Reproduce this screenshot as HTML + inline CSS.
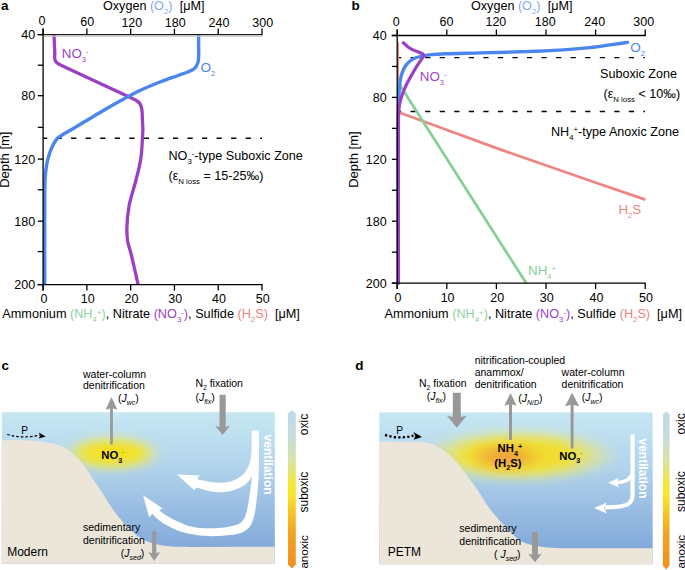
<!DOCTYPE html><html><head><meta charset="utf-8"><style>html,body{margin:0;padding:0;background:#fff;overflow:hidden;}svg{display:block;}</style></head><body>
<svg width="685" height="570" viewBox="0 0 685 570" style="font-family:&quot;Liberation Sans&quot;,sans-serif" fill="#000">
<defs>
<linearGradient id="water" x1="0" y1="0" x2="0" y2="1">
 <stop offset="0" stop-color="#c6e7f2"/>
 <stop offset="0.35" stop-color="#b2d4ec"/>
 <stop offset="1" stop-color="#7aa1d6"/>
</linearGradient>
<linearGradient id="cbar" x1="0" y1="0" x2="0" y2="1">
 <stop offset="0" stop-color="#bfd9ea"/>
 <stop offset="0.15" stop-color="#c4dbe0"/>
 <stop offset="0.32" stop-color="#d8e3a4"/>
 <stop offset="0.47" stop-color="#f4e832"/>
 <stop offset="0.53" stop-color="#f7e62a"/>
 <stop offset="0.65" stop-color="#f6c426"/>
 <stop offset="0.78" stop-color="#f3a223"/>
 <stop offset="1" stop-color="#f0901e"/>
</linearGradient>
<radialGradient id="glowc" cx="0.5" cy="0.5" r="0.5">
 <stop offset="0" stop-color="#f3d81c"/>
 <stop offset="0.3" stop-color="#f3e222"/>
 <stop offset="0.6" stop-color="#f1e52e" stop-opacity="0.92"/>
 <stop offset="0.82" stop-color="#e9e880" stop-opacity="0.4"/>
 <stop offset="1" stop-color="#e6ea9a" stop-opacity="0"/>
</radialGradient>
<radialGradient id="glowd" cx="0.5" cy="0.5" r="0.5">
 <stop offset="0" stop-color="#f09433"/>
 <stop offset="0.35" stop-color="#f4c22c"/>
 <stop offset="0.6" stop-color="#f2e32a" stop-opacity="0.95"/>
 <stop offset="1" stop-color="#eeea60" stop-opacity="0"/>
</radialGradient>
<radialGradient id="glowd1" cx="0.5" cy="0.5" r="0.5">
 <stop offset="0" stop-color="#f2d22a"/>
 <stop offset="0.55" stop-color="#f2e22a" stop-opacity="0.95"/>
 <stop offset="0.8" stop-color="#ece875" stop-opacity="0.5"/>
 <stop offset="1" stop-color="#e6ea9a" stop-opacity="0"/>
</radialGradient>
<radialGradient id="glowd2" cx="0.5" cy="0.5" r="0.5">
 <stop offset="0" stop-color="#ef9a40"/>
 <stop offset="0.45" stop-color="#f0a83a" stop-opacity="0.85"/>
 <stop offset="1" stop-color="#f2c02e" stop-opacity="0"/>
</radialGradient>
<filter id="blur3" x="-50%" y="-50%" width="200%" height="200%"><feGaussianBlur stdDeviation="4"/></filter>
</defs>
<text x="1.1" y="9.6" font-size="13.5" font-weight="bold">a</text>
<text x="103" y="10" font-size="12.6">Oxygen <tspan fill="#80a8f0">(O<tspan font-size="7.8" dy="3.5">2</tspan><tspan dy="-3.5">)</tspan></tspan><tspan dx="7.2">[μM]</tspan></text>
<text transform="translate(9.4 159.7) rotate(-90)" text-anchor="middle" font-size="13">Depth [m]</text>
<text x="2.3" y="318.4" font-size="12.7">Ammonium <tspan fill="#8cd39c">(NH<tspan font-size="7.8" dy="3.5">4</tspan><tspan font-size="7.8" dy="-7">+</tspan><tspan dy="3.5">)</tspan></tspan>, Nitrate <tspan fill="#9b3fc6">(NO<tspan font-size="7.8" dy="3.5">3</tspan><tspan font-size="7.8" dy="-7">-</tspan><tspan dy="3.5">)</tspan></tspan>, Sulfide <tspan fill="#ee807c">(H<tspan font-size="7.8" dy="3.5">2</tspan><tspan dy="-3.5">S)</tspan></tspan><tspan dx="7">[μM]</tspan></text>
<line x1="43" y1="138.2" x2="262" y2="138.2" stroke="#000" stroke-width="1.4" stroke-dasharray="5.2 9.35" stroke-dashoffset="1"/>
<path d="M54 35 L54.8 53 C54.7 56 54.3 58.5 55.3 60.8 C56.5 63.2 58.5 64.3 61.5 65.6 L133 98.8 C139.5 101.6 141.6 104 142.1 112 L142.9 130 C142.23 139.33 142.18 149.27 140.9 158 C139.76 165.82 137.86 172.4 136 180 C133.97 188.28 130.62 197.46 129.1 205.8 C127.71 213.42 127.04 221.58 126.9 228 C126.79 232.9 126.92 236.74 127.6 241 C128.28 245.27 129.72 248.46 131 253.6 C133 261.63 135.73 274.27 138.1 284.6" fill="none" stroke="#9b3fc6" stroke-width="3.3" stroke-linejoin="round"/>
<path d="M198.6 35 L198.7 56 C198.7 62 197.5 66 194 68.8 C190.5 71.4 185 73 178 75.5 C172 77.67 166.12 79.6 160 82 C153.47 84.56 146.6 87.37 140 90.5 C133.27 93.69 126.63 97.35 120 101 C113.3 104.68 106.65 108.59 100 112.5 C93.32 116.43 86.2 120.82 80 124.5 C74.65 127.67 69.11 130.73 65 133.3 C62.04 135.15 59.58 136.2 57.5 138.3 C55.4 140.42 53.93 143.15 52.5 146 C50.92 149.15 49.63 153.03 48.6 156.5 C47.62 159.79 46.97 162.8 46.4 166.3 C45.76 170.24 45.39 174.23 45.1 179 C44.73 185.12 44.79 190.66 44.7 200 C44.52 218.75 44.7 256.4 44.7 284.6" fill="none" stroke="#4a86ee" stroke-width="3.4" stroke-linejoin="round"/>
<line x1="37.6" y1="34.6" x2="262.6" y2="34.6" stroke="#1a1a1a" stroke-width="1.3"/>
<line x1="37.6" y1="284.6" x2="262.6" y2="284.6" stroke="#000" stroke-width="1.3"/>
<line x1="43.1" y1="28.6" x2="43.1" y2="290.6" stroke="#000" stroke-width="1.3"/>
<line x1="43.1" y1="28.6" x2="43.1" y2="34.6" stroke="#000" stroke-width="1.3"/>
<line x1="43.1" y1="284.6" x2="43.1" y2="290.6" stroke="#000" stroke-width="1.3"/>
<text x="42.1" y="24.6" text-anchor="middle" font-size="12.5">0</text>
<text x="43.9" y="302.5" text-anchor="middle" font-size="12.5">0</text>
<line x1="86.88" y1="28.6" x2="86.88" y2="34.6" stroke="#000" stroke-width="1.3"/>
<line x1="86.88" y1="284.6" x2="86.88" y2="290.6" stroke="#000" stroke-width="1.3"/>
<text x="87.28" y="26" text-anchor="middle" font-size="12.5">60</text>
<text x="87.68" y="302.5" text-anchor="middle" font-size="12.5">10</text>
<line x1="130.66" y1="28.6" x2="130.66" y2="34.6" stroke="#000" stroke-width="1.3"/>
<line x1="130.66" y1="284.6" x2="130.66" y2="290.6" stroke="#000" stroke-width="1.3"/>
<text x="131.86" y="27" text-anchor="middle" font-size="12.5">120</text>
<text x="131.46" y="302.5" text-anchor="middle" font-size="12.5">20</text>
<line x1="174.44" y1="28.6" x2="174.44" y2="34.6" stroke="#000" stroke-width="1.3"/>
<line x1="174.44" y1="284.6" x2="174.44" y2="290.6" stroke="#000" stroke-width="1.3"/>
<text x="175.24" y="27" text-anchor="middle" font-size="12.5">180</text>
<text x="175.24" y="302.5" text-anchor="middle" font-size="12.5">30</text>
<line x1="218.22" y1="28.6" x2="218.22" y2="34.6" stroke="#000" stroke-width="1.3"/>
<line x1="218.22" y1="284.6" x2="218.22" y2="290.6" stroke="#000" stroke-width="1.3"/>
<text x="219.02" y="27" text-anchor="middle" font-size="12.5">240</text>
<text x="219.02" y="302.5" text-anchor="middle" font-size="12.5">40</text>
<line x1="262" y1="28.6" x2="262" y2="34.6" stroke="#000" stroke-width="1.3"/>
<line x1="262" y1="284.6" x2="262" y2="290.6" stroke="#000" stroke-width="1.3"/>
<text x="262.8" y="27" text-anchor="middle" font-size="12.5">300</text>
<text x="262.8" y="302.5" text-anchor="middle" font-size="12.5">50</text>
<line x1="37.8" y1="34.6" x2="43.1" y2="34.6" stroke="#000" stroke-width="1.3"/>
<line x1="37.8" y1="65.2" x2="43.1" y2="65.2" stroke="#000" stroke-width="1.3"/>
<line x1="37.8" y1="95.7" x2="43.1" y2="95.7" stroke="#000" stroke-width="1.3"/>
<line x1="37.8" y1="127.4" x2="43.1" y2="127.4" stroke="#000" stroke-width="1.3"/>
<line x1="37.8" y1="159.1" x2="43.1" y2="159.1" stroke="#000" stroke-width="1.3"/>
<line x1="37.8" y1="189.8" x2="43.1" y2="189.8" stroke="#000" stroke-width="1.3"/>
<line x1="37.8" y1="221.2" x2="43.1" y2="221.2" stroke="#000" stroke-width="1.3"/>
<line x1="37.8" y1="251.6" x2="43.1" y2="251.6" stroke="#000" stroke-width="1.3"/>
<line x1="37.8" y1="284.6" x2="43.1" y2="284.6" stroke="#000" stroke-width="1.3"/>
<text x="35.2" y="39.2" text-anchor="end" font-size="12.5">40</text>
<text x="35.2" y="100.3" text-anchor="end" font-size="12.5">80</text>
<text x="35.2" y="163.7" text-anchor="end" font-size="12.5">120</text>
<text x="35.2" y="225.8" text-anchor="end" font-size="12.5">180</text>
<text x="35.2" y="289.2" text-anchor="end" font-size="12.5">200</text>
<line x1="43.8" y1="36.1" x2="262.5" y2="36.1" stroke="#c4c4c4" stroke-width="1.1"/>
<text x="61.8" y="57.8" font-size="13.3" fill="#9b3fc6">NO<tspan font-size="7.5" dy="4">3</tspan><tspan font-size="7.5" dy="-8.2">-</tspan></text>
<text x="200.6" y="71.6" font-size="13.5" fill="#4a86ee">O<tspan font-size="7.5" dy="4">2</tspan></text>
<text x="168.5" y="160" font-size="12.6">NO<tspan font-size="7.8" dy="3.5">3</tspan><tspan font-size="7.8" dy="-7.5">-</tspan><tspan dy="4">-type Suboxic Zone</tspan></text>
<text x="168.5" y="180" font-size="12.6">(ε<tspan font-size="7.8" dy="3.5">N loss</tspan><tspan dy="-3.5"> = 15-25‰)</tspan></text>
<text x="351.6" y="9.6" font-size="13.5" font-weight="bold">b</text>
<text x="471" y="10" font-size="12.6">Oxygen <tspan fill="#80a8f0">(O<tspan font-size="7.8" dy="3.5">2</tspan><tspan dy="-3.5">)</tspan></tspan><tspan dx="7.2">[μM]</tspan></text>
<text transform="translate(358 159.6) rotate(-90)" text-anchor="middle" font-size="13">Depth [m]</text>
<text x="384.5" y="318.4" font-size="12.7">Ammonium <tspan fill="#8cd39c">(NH<tspan font-size="7.8" dy="3.5">4</tspan><tspan font-size="7.8" dy="-7">+</tspan><tspan dy="3.5">)</tspan></tspan>, Nitrate <tspan fill="#9b3fc6">(NO<tspan font-size="7.8" dy="3.5">3</tspan><tspan font-size="7.8" dy="-7">-</tspan><tspan dy="3.5">)</tspan></tspan>, Sulfide <tspan fill="#ee807c">(H<tspan font-size="7.8" dy="3.5">2</tspan><tspan dy="-3.5">S)</tspan></tspan><tspan dx="7">[μM]</tspan></text>
<line x1="398" y1="57.6" x2="645" y2="57.6" stroke="#000" stroke-width="1.4" stroke-dasharray="5.2 9.35" stroke-dashoffset="1.95"/>
<line x1="398" y1="111.5" x2="645" y2="111.5" stroke="#000" stroke-width="1.4" stroke-dasharray="5.2 9.35" stroke-dashoffset="1.95"/>
<line x1="398.4" y1="42" x2="398.4" y2="112" stroke="#ef8580" stroke-width="1.2"/>
<path d="M398.6 112.2 C413.4 117.6 426.74 122.45 443 128.4 C462.83 135.65 483 143.35 509 152.6 C546.25 165.85 599.93 183.93 645.4 199.6" fill="none" stroke="#ef8580" stroke-width="2.7"/>
<path d="M399.8 85 C441.9 151.03 484 217.07 526.1 283.1" fill="none" stroke="#84d194" stroke-width="2.7"/>
<path d="M627.5 42.4 C621.67 43.23 616.03 44.06 610 44.9 C603.56 45.8 597.35 46.8 590 47.6 C581.02 48.58 570.73 49.43 560 50.1 C547.63 50.88 533.34 51.33 520 51.8 C506.67 52.27 492.89 52.56 480 52.9 C467.94 53.22 453.83 53.41 445 53.8 C439.61 54.03 435.74 54.24 432 54.6 C429.15 54.88 427.06 55.1 424.5 55.6 C421.74 56.14 418.58 56.75 416 57.8 C413.62 58.77 411.33 60.01 409.5 61.5 C407.81 62.88 406.5 64.5 405.3 66.3 C404.04 68.21 403.03 70.45 402.2 72.7 C401.34 75.04 400.79 77.4 400.3 80.1 C399.73 83.28 399.49 87.19 399.2 90.6 C398.93 93.82 398.74 95.98 398.6 100 C398.35 107.17 398.45 116.14 398.4 130 C398.3 161.3 398.4 232 398.4 283" fill="none" stroke="#4a86ee" stroke-width="3.4" stroke-linejoin="round" stroke-linecap="round"/>
<path d="M403.4 42.7 C405.17 44.3 406.85 46.19 408.7 47.5 C410.4 48.71 412.13 49.54 414 50.4 C415.98 51.31 418.58 51.91 420.3 52.8 C421.62 53.48 423.34 53.99 423.6 55 C423.9 56.14 422.28 57.82 421.3 59.5 C419.94 61.82 417.56 64.97 416 67.5 C414.64 69.7 413.69 71.55 412.4 73.8 C410.91 76.4 409.07 79.33 407.6 82.2 C406.13 85.07 404.74 88.16 403.6 91 C402.57 93.58 401.73 96.03 401 98.5 C400.31 100.86 399.71 102.97 399.3 105.5 C398.83 108.41 398.72 109.88 398.5 115 C397.59 136.51 398.43 227 398.4 283" fill="none" stroke="#9b3fc6" stroke-width="3.2" stroke-linejoin="round" stroke-linecap="round"/>
<line x1="391.7" y1="35.5" x2="645.8" y2="35.5" stroke="#000" stroke-width="1.3"/>
<line x1="391.7" y1="283.1" x2="645.8" y2="283.1" stroke="#000" stroke-width="1.3"/>
<line x1="397.2" y1="29.5" x2="397.2" y2="289.1" stroke="#000" stroke-width="1.3"/>
<line x1="397.2" y1="29.5" x2="397.2" y2="35.5" stroke="#000" stroke-width="1.3"/>
<line x1="397.2" y1="283.1" x2="397.2" y2="289.1" stroke="#000" stroke-width="1.3"/>
<text x="396.2" y="26.4" text-anchor="middle" font-size="12.5">0</text>
<text x="398" y="302.2" text-anchor="middle" font-size="12.5">0</text>
<line x1="446.8" y1="29.5" x2="446.8" y2="35.5" stroke="#000" stroke-width="1.3"/>
<line x1="446.8" y1="283.1" x2="446.8" y2="289.1" stroke="#000" stroke-width="1.3"/>
<text x="446.4" y="26.4" text-anchor="middle" font-size="12.5">60</text>
<text x="447.6" y="302.2" text-anchor="middle" font-size="12.5">10</text>
<line x1="496.4" y1="29.5" x2="496.4" y2="35.5" stroke="#000" stroke-width="1.3"/>
<line x1="496.4" y1="283.1" x2="496.4" y2="289.1" stroke="#000" stroke-width="1.3"/>
<text x="495.9" y="26.4" text-anchor="middle" font-size="12.5">120</text>
<text x="497.2" y="302.2" text-anchor="middle" font-size="12.5">20</text>
<line x1="546" y1="29.5" x2="546" y2="35.5" stroke="#000" stroke-width="1.3"/>
<line x1="546" y1="283.1" x2="546" y2="289.1" stroke="#000" stroke-width="1.3"/>
<text x="545.2" y="26.4" text-anchor="middle" font-size="12.5">180</text>
<text x="546.8" y="302.2" text-anchor="middle" font-size="12.5">30</text>
<line x1="595.6" y1="29.5" x2="595.6" y2="35.5" stroke="#000" stroke-width="1.3"/>
<line x1="595.6" y1="283.1" x2="595.6" y2="289.1" stroke="#000" stroke-width="1.3"/>
<text x="594.8" y="26.4" text-anchor="middle" font-size="12.5">240</text>
<text x="596.4" y="302.2" text-anchor="middle" font-size="12.5">40</text>
<line x1="645.2" y1="29.5" x2="645.2" y2="35.5" stroke="#000" stroke-width="1.3"/>
<line x1="645.2" y1="283.1" x2="645.2" y2="289.1" stroke="#000" stroke-width="1.3"/>
<text x="643.8" y="26.4" text-anchor="middle" font-size="12.5">300</text>
<text x="646" y="302.2" text-anchor="middle" font-size="12.5">50</text>
<line x1="391.9" y1="35.5" x2="397.2" y2="35.5" stroke="#000" stroke-width="1.3"/>
<line x1="391.9" y1="66.45" x2="397.2" y2="66.45" stroke="#000" stroke-width="1.3"/>
<line x1="391.9" y1="97.4" x2="397.2" y2="97.4" stroke="#000" stroke-width="1.3"/>
<line x1="391.9" y1="128.35" x2="397.2" y2="128.35" stroke="#000" stroke-width="1.3"/>
<line x1="391.9" y1="159.3" x2="397.2" y2="159.3" stroke="#000" stroke-width="1.3"/>
<line x1="391.9" y1="190.25" x2="397.2" y2="190.25" stroke="#000" stroke-width="1.3"/>
<line x1="391.9" y1="221.2" x2="397.2" y2="221.2" stroke="#000" stroke-width="1.3"/>
<line x1="391.9" y1="252.15" x2="397.2" y2="252.15" stroke="#000" stroke-width="1.3"/>
<line x1="391.9" y1="283.1" x2="397.2" y2="283.1" stroke="#000" stroke-width="1.3"/>
<text x="386.6" y="40.1" text-anchor="end" font-size="12.5">40</text>
<text x="386.6" y="102" text-anchor="end" font-size="12.5">80</text>
<text x="386.6" y="163.9" text-anchor="end" font-size="12.5">120</text>
<text x="386.6" y="225.8" text-anchor="end" font-size="12.5">180</text>
<text x="386.6" y="287.7" text-anchor="end" font-size="12.5">200</text>
<text x="419.8" y="80.8" font-size="13.3" fill="#9b3fc6">NO<tspan font-size="7.5" dy="4">3</tspan><tspan font-size="7.5" dy="-8.2">-</tspan></text>
<text x="630.3" y="51.6" font-size="13.5" fill="#4a86ee">O<tspan font-size="7.5" dy="4">2</tspan></text>
<text x="618.4" y="213.7" font-size="13.3" fill="#ef8580">H<tspan font-size="7.5" dy="4">2</tspan><tspan dy="-4">S</tspan></text>
<text x="528.1" y="274.8" font-size="13.3" fill="#84d194">NH<tspan font-size="7.5" dy="4">4</tspan><tspan font-size="7.5" dy="-7.5">+</tspan></text>
<text x="677" y="78.3" font-size="12.6" text-anchor="end">Suboxic Zone</text>
<text x="603.5" y="98" font-size="12.6">(ε<tspan font-size="7.8" dy="3.5">N loss</tspan><tspan dy="-3.5"> &lt; 10‰)</tspan></text>
<text x="551" y="136" font-size="12.6">NH<tspan font-size="7.8" dy="3.5">4</tspan><tspan font-size="7.8" dy="-7.5">+</tspan><tspan dy="4">-type Anoxic Zone</tspan></text>
<text x="1.4" y="369.6" font-size="13.5" font-weight="bold">c</text>
<rect x="1.8" y="412.2" width="273" height="151.5" fill="url(#water)"/>
<ellipse cx="112.5" cy="453.3" rx="52" ry="19.5" fill="url(#glowc)" filter="url(#blur3)"/>
<path d="M1.8 563.8 L1.8 443 Q1.8 440.4 5 440.3 C12 439.8 25 440.3 40 441.4 C45 442.27 50.63 442.82 55 444 C58.55 444.96 61.47 445.94 64.4 447.5 C67.34 449.07 69.96 451.16 72.6 453.4 C75.41 455.79 78.18 458.61 80.7 461.5 C83.25 464.43 85.61 467.75 87.8 470.9 C89.9 473.92 91.52 476.85 93.6 480 C95.89 483.46 98.49 486.96 101 490.8 C103.78 495.07 106.59 500.18 109.5 504.5 C112.23 508.56 114.83 512.25 117.9 516 C121.11 519.92 124.8 523.93 128.4 527.5 C131.84 530.91 135.11 534.41 139 537 C142.85 539.56 147.14 541.51 151.6 543 C156.22 544.55 161.46 545.37 166.3 546 C170.93 546.6 175 546.64 180 546.8 C186.04 546.99 193.33 546.87 200 546.9 L274.8 546.8 L274.8 563.8 Z" fill="#ebe5da"/>
<text x="83" y="378" font-size="10.5">water-column</text>
<text x="83" y="389.3" font-size="10.5">denitrification</text>
<text x="118" y="402.3" font-size="10.5">(<tspan font-style="italic">J</tspan><tspan font-size="7" dy="3" font-style="italic">wc</tspan><tspan dy="-3">)</tspan></text>
<path d="M111.5 397 L117.3 409.6 L112.9 408.4 L112.9 444.5 L110.1 444.5 L110.1 408.4 L105.7 409.6 Z" fill="#999999"/>
<text x="101.3" y="458.8" font-size="11.3" font-weight="bold">NO<tspan font-size="7.2" dy="3.8">3</tspan><tspan font-size="6" font-weight="normal" fill="#444" dy="-9">-</tspan></text>
<text x="195.4" y="387.3" font-size="10.5">N<tspan font-size="6.8" dy="3">2</tspan><tspan dy="-3"> fixation</tspan></text>
<text x="195.4" y="401" font-size="10.5">(<tspan font-style="italic">J</tspan><tspan font-size="7" dy="3" font-style="italic">fix</tspan><tspan dy="-3">)</tspan></text>
<path d="M219.5 394.7 L225.7 394.7 L225.7 427 L230.1 425.8 L222.6 435 L215.1 425.8 L219.5 427 Z" fill="#999999"/>
<text x="21.3" y="433.9" font-size="10.2">P</text>
<path d="M7.2 434.5 Q23 439 40 435" fill="none" stroke="#000" stroke-width="1.2" stroke-dasharray="2.6 2"/>
<polygon points="38.8,432.4 45.6,436.4 38.8,438.6 40.3,435.6" fill="#000"/>
<path d="M251.8 430.8 L251.8 449.8 C251.07 454.2 251.07 458.86 249.6 463 C248.13 467.13 246.04 471.57 243 474.6 C239.95 477.64 235.45 479.85 231.3 481.2 C227.18 482.54 222.44 482.73 218.2 482.7 C214.19 482.67 210.19 481.82 206.5 481.2 C203.16 480.63 200.17 479.87 197 479.2 L199.9 475.4 L177 474.4 L194.1 490 L196.5 487.6 C200.33 488.63 204.02 489.94 208 490.7 C212.17 491.5 216.66 492.31 221 492.2 C225.39 492.09 230.03 491.36 234.2 490 C238.33 488.65 242.8 486.79 245.9 484.1 C248.81 481.57 250.65 478.25 252.5 474.6 C254.64 470.38 256.46 464.68 257.5 460 C258.42 455.86 258.37 452 258.8 448 L259 430.8 Z" fill="#fff"/>
<path d="M259 430.8 L259 460 C258.8 466.67 258.76 473.61 258.4 480 C258.07 485.9 257.56 491.72 257 497 C256.51 501.63 256.03 505.97 255.3 510 C254.66 513.57 254.07 517.02 253 520 C252.07 522.6 251.05 525.06 249.5 527 C248.02 528.85 246.12 530.31 244 531.5 C241.68 532.8 238.92 533.64 236 534.3 C232.66 535.06 228.82 535.19 225 535.5 C220.85 535.84 216.25 536.19 212 536.2 C207.92 536.21 203.51 535.99 200 535.6 C197.23 535.29 195.16 534.79 192.6 534.3 C189.81 533.77 186.78 533.29 183.9 532.5 C180.95 531.7 177.99 530.71 175.1 529.5 C172.12 528.26 169.17 526.8 166.3 525.1 C163.3 523.32 159.97 521.08 157.5 519 C155.44 517.27 154.03 515.47 152.3 513.7 L149.2 517.6 L143.1 495.3 L162.8 508.4 L158.9 510.2 C161.37 511.93 163.68 513.76 166.3 515.4 C169.06 517.13 172.13 518.82 175.1 520.3 C178 521.75 180.94 523.11 183.9 524.2 C186.77 525.26 189.8 526.18 192.6 526.8 C195.15 527.37 197.23 527.66 200 527.9 C203.51 528.2 207.92 528.27 212 528.2 C216.25 528.12 221.08 527.93 225 527.4 C228.29 526.95 231.33 526.29 234 525.5 C236.23 524.84 238.35 524.29 240 523.2 C241.48 522.22 242.62 520.96 243.6 519.5 C244.66 517.93 245.35 515.98 246 514 C246.71 511.84 247.08 509.65 247.6 507 C248.28 503.54 248.97 499.23 249.6 495 C250.31 490.28 251.22 485.37 251.6 480 C252.04 473.82 251.73 466.67 251.8 460 L251.8 430.8 Z" fill="#fff"/>
<text transform="translate(263.5 434.6) rotate(90)" font-size="12" font-weight="bold" fill="#fff">ventilation</text>
<text x="83" y="531.2" font-size="10.5">sedimentary</text>
<text x="83" y="543.7" font-size="10.5">denitrification</text>
<text x="120.8" y="556.6" font-size="10.5">(<tspan font-style="italic">J</tspan><tspan font-size="7" dy="3" font-style="italic">sed</tspan><tspan dy="-3">)</tspan></text>
<path d="M152.1 531.2 L156.3 531.2 L156.3 553.2 L160.2 552 L154.2 561.1 L148.2 552 L152.1 553.2 Z" fill="#999999"/>
<text x="7.2" y="556.4" font-size="12">Modern</text>
<path d="M288 413.4 L291.9 409.9 L295.8 413.4 L295.8 564.5 L291.9 568.5 L288 564.5 Z" fill="url(#cbar)"/>
<text transform="translate(308.4 435.2) rotate(-90)" font-size="12">oxic</text>
<text transform="translate(308.4 512.5) rotate(-90)" font-size="12">suboxic</text>
<text transform="translate(308.4 568.6) rotate(-90)" font-size="11.6">anoxic</text>
<text x="355.2" y="369.5" font-size="13.5" font-weight="bold">d</text>
<rect x="379.2" y="412.4" width="273.5" height="151.8" fill="url(#water)"/>
<ellipse cx="519" cy="455.5" rx="100" ry="28" fill="url(#glowd1)" filter="url(#blur3)"/>
<ellipse cx="505" cy="457" rx="40" ry="16" fill="url(#glowd2)" filter="url(#blur3)"/>
<path d="M379.2 564.2 L379.2 444 Q379.2 441.6 382 441.6 L400 441.7 C407.8 441.9 416.99 441.43 423.4 442.3 C427.98 442.92 431.44 443.7 435 445.2 C438.42 446.64 441.45 448.85 444.4 451 C447.31 453.12 449.97 455.38 452.6 458 C455.42 460.81 458.13 464.24 460.7 467.4 C463.19 470.47 465.3 473.34 467.8 476.7 C470.71 480.61 473.88 484.83 477.1 489.5 C480.84 494.93 484.73 501.91 488.8 507.4 C492.56 512.47 496.53 516.97 500.5 521.4 C504.3 525.65 508.54 530.08 512.1 533.5 C514.93 536.22 517.04 538.66 520 540.5 C523 542.37 526.27 543.51 530 544.6 C534.43 545.89 539.98 546.7 545 547.3 C549.98 547.9 554.64 548.03 560 548.2 C566.19 548.4 573.33 548.27 580 548.3 L652.7 548.3 L652.7 564.2 Z" fill="#ebe5da"/>
<text x="474.7" y="363.9" font-size="10.5">nitrification-coupled</text>
<text x="474.7" y="376.2" font-size="10.5">anammox/</text>
<text x="474.7" y="388.4" font-size="10.5">denitrification</text>
<text x="518.3" y="401.5" font-size="10.5">(<tspan font-style="italic">J</tspan><tspan font-size="7" dy="3" font-style="italic">N/D</tspan><tspan dy="-3">)</tspan></text>
<path d="M510.5 392.9 L516.6 405.6 L512 404.4 L512 440 L509 440 L509 404.4 L504.4 405.6 Z" fill="#999999"/>
<text x="561.6" y="376" font-size="10.5">water-column</text>
<text x="561.6" y="388.2" font-size="10.5">denitrification</text>
<text x="581.8" y="401.4" font-size="10.5">(<tspan font-style="italic">J</tspan><tspan font-size="7" dy="3" font-style="italic">wc</tspan><tspan dy="-3">)</tspan></text>
<path d="M572.1 392.8 L579.2 406.3 L573.6 405.1 L573.6 448.6 L570.6 448.6 L570.6 405.1 L565 406.3 Z" fill="#999999"/>
<text x="419" y="387.3" font-size="10.5">N<tspan font-size="6.8" dy="3">2</tspan><tspan dy="-3"> fixation</tspan></text>
<text x="426.8" y="399.7" font-size="10.5">(<tspan font-style="italic">J</tspan><tspan font-size="7" dy="3" font-style="italic">fix</tspan><tspan dy="-3">)</tspan></text>
<path d="M452.85 392.7 L460.75 392.7 L460.75 417 L466.7 415.8 L456.8 427.7 L446.9 415.8 L452.85 417 Z" fill="#999999"/>
<text x="396.3" y="433.6" font-size="10.2">P</text>
<path d="M385 434.9 Q398.5 439.6 413.5 435.6" fill="none" stroke="#000" stroke-width="2.3" stroke-dasharray="2.3 2.2"/>
<polygon points="413.4,432 422,436.9 413.6,439.8 415.4,436.2" fill="#000"/>
<text x="497.6" y="452.4" font-size="11.3" font-weight="bold">NH<tspan font-size="7.2" dy="3.6">4</tspan><tspan font-size="7.2" dy="-7.2">+</tspan></text>
<text x="494.3" y="466.8" font-size="11.3" font-weight="bold">(H<tspan font-size="7.2" dy="3.6">2</tspan><tspan dy="-3.6">S)</tspan></text>
<text x="559.3" y="459.8" font-size="11.3" font-weight="bold">NO<tspan font-size="7.2" dy="3.6">3</tspan><tspan font-size="6" font-weight="normal" fill="#444" dy="-8.4">-</tspan></text>
<path d="M632.6 434.5 L632.6 495 C632.6 505 625 507.3 605 507.3" fill="none" stroke="#fff" stroke-width="4.2"/>
<polygon points="594,508 607,502.5 604,508 607,513.5" fill="#fff"/>
<path d="M632.4 470 C632.4 480 625 482.6 615 482.6" fill="none" stroke="#fff" stroke-width="3.5"/>
<polygon points="608,482.6 619,478 616.5,482.6 619,487.5" fill="#fff"/>
<text transform="translate(639.3 438.5) rotate(90)" font-size="12" font-weight="bold" fill="#fff">ventilation</text>
<text x="459.3" y="531.7" font-size="10.5">sedimentary</text>
<text x="459.3" y="544.6" font-size="10.5">denitrification</text>
<text x="494" y="557.8" font-size="10.5">( <tspan font-style="italic">J</tspan><tspan font-size="7" dy="3" font-style="italic">sed</tspan><tspan dy="-3">)</tspan></text>
<path d="M532.05 532 L537.95 532 L537.95 554.8 L541.9 553.6 L535 562.3 L528.1 553.6 L532.05 554.8 Z" fill="#999999"/>
<text x="387.7" y="556.4" font-size="12">PETM</text>
<path d="M662.9 414.6 L666.2 411.2 L669.5 414.6 L669.5 565.5 L666.2 569.5 L662.9 565.5 Z" fill="url(#cbar)"/>
<text transform="translate(685 434.6) rotate(-90)" font-size="12">oxic</text>
<text transform="translate(685 512) rotate(-90)" font-size="12">suboxic</text>
<text transform="translate(685 568.4) rotate(-90)" font-size="11.6">anoxic</text>
</svg></body></html>
